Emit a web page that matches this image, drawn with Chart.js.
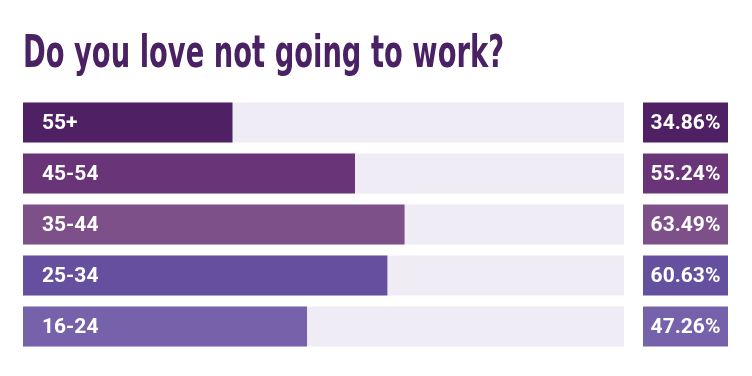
<!DOCTYPE html>
<html>
<head>
<meta charset="utf-8">
<script src="https://cdn.jsdelivr.net/npm/chart.js@4/dist/chart.umd.min.js"></script>
<style>
  html, body { margin: 0; padding: 0; background: #ffffff; }
  #wrap { width: 752px; height: 376px; position: relative; }
</style>
</head>
<body>
<div id="wrap"><canvas id="grafico" width="752" height="376"></canvas></div>
<script>
const titulo = 'Do you love not going to work?';
const faixas = ['55+', '45-54', '35-44', '25-34', '16-24'];
const percentuais = [34.86, 55.24, 63.49, 60.63, 47.26];
const total = [100, 100, 100, 100, 100];
const cores = ['#4f2063', '#6a3478', '#7e5089', '#6550a0', '#7662ab'];
const corTrilho = '#efecf6';
const corTitulo = '#4a2163';

// titulo + rotulos + caixas de valor
const pluginTextos = {
    id: 'textos',
    afterDraw(chart) {
        const ctx = chart.ctx;
        const y = chart.scales.y;
        const area = chart.chartArea;

        ctx.save();
        ctx.fillStyle = corTitulo;
        ctx.font = 'bold 45px "Liberation Sans Narrow", "DejaVu Sans Condensed", sans-serif';
        ctx.textBaseline = 'alphabetic';
        const largura = ctx.measureText(titulo).width;
        ctx.translate(23, 67);
        ctx.scale(481 / largura, 1);
        ctx.fillText(titulo, 0, 0);
        ctx.restore();

        const meta = chart.getDatasetMeta(0);
        meta.data.forEach((barra, i) => {
            const cy = y.getPixelForValue(i);
            const h = barra.height;

            ctx.save();
            ctx.fillStyle = '#ffffff';
            ctx.font = 'bold 21px Roboto, sans-serif';
            ctx.textBaseline = 'middle';
            ctx.textAlign = 'left';
            ctx.fillText(faixas[i], area.left + 19, cy + 1);

            const x0 = area.right + 19;
            ctx.fillStyle = cores[i];
            ctx.fillRect(x0, cy - h / 2, 85, h);
            ctx.fillStyle = '#ffffff';
            ctx.textAlign = 'center';
            ctx.fillText(percentuais[i].toFixed(2) + '%', x0 + 42.5, cy + 1);
            ctx.restore();
        });
    }
};

new Chart(document.getElementById('grafico'), {
    type: 'bar',
    data: {
        labels: faixas,
        datasets: [
            {
                data: percentuais,
                backgroundColor: cores,
                borderWidth: 0,
                order: 0
            },
            {
                data: total,
                backgroundColor: corTrilho,
                borderWidth: 0,
                order: 1
            }
        ]
    },
    options: {
        indexAxis: 'y',
        responsive: false,
        animation: false,
        grouped: false,
        categoryPercentage: 1,
        barPercentage: 40 / 51,
        layout: { padding: { top: 97, bottom: 24, left: 23, right: 128 } },
        scales: {
            x: { display: false, min: 0, max: 100 },
            y: { display: false }
        },
        plugins: {
            legend: { display: false },
            tooltip: { enabled: false }
        }
    },
    plugins: [pluginTextos]
});
</script>
</body>
</html>
